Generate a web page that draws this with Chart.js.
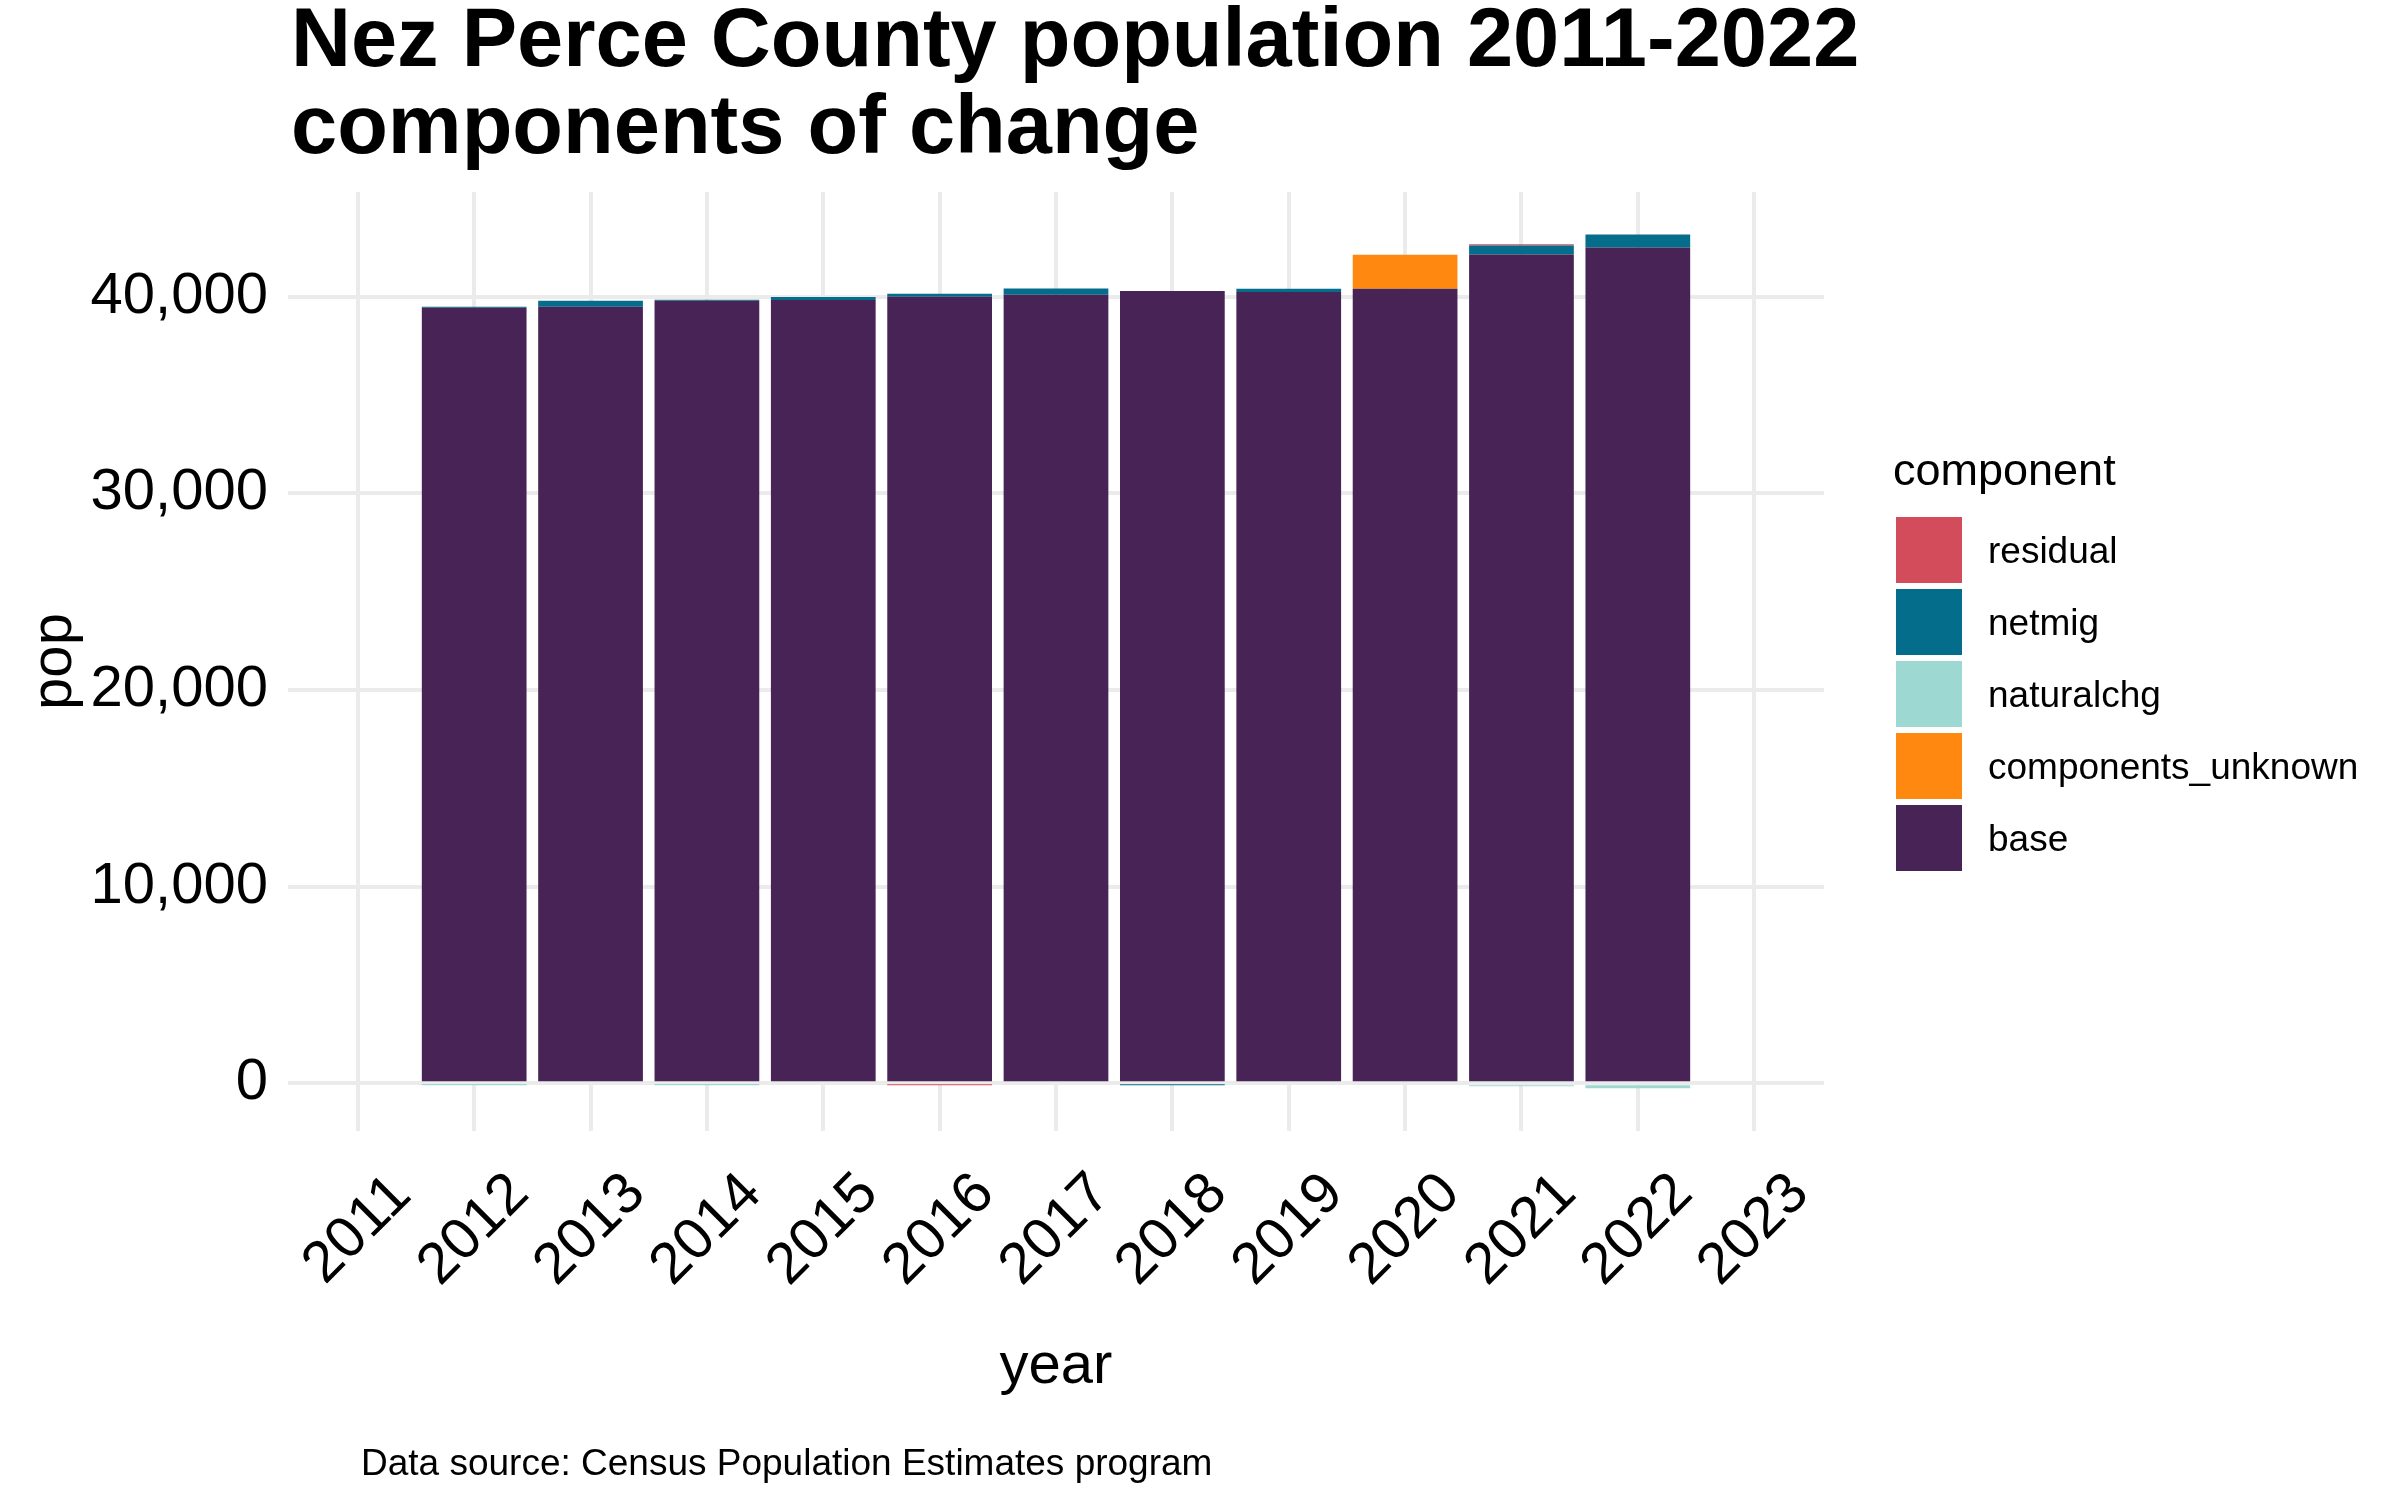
<!DOCTYPE html>
<html lang="en">
<head>
  <meta charset="UTF-8"/>
  <title>Nez Perce County population 2011-2022</title>
  <style>
    html, body { margin: 0; padding: 0; background: #fff; }
    .wrap { width: 2400px; height: 1500px; }
  </style>
  <script src="https://cdn.jsdelivr.net/npm/chart.js"></script>
</head>
<body>
  <div class="wrap"><canvas id="chart" width="2400" height="1500"></canvas></div>

  <script>
    // data
    const years = [2012, 2013, 2014, 2015, 2016, 2017, 2018, 2019, 2020, 2021, 2022];
    const base       = [39440, 39480, 39790, 39830, 40000, 40100, 40280, 40240, 40400, 42140, 42500];
    const unknown    = [0, 0, 0, 0, 0, 0, 0, 0, 1730, 0, 0];
    const naturalchg = [-30, 0, -30, 0, 0, -100, 0, 0, 0, -150, -250];
    const netmig     = [50, 310, 50, 150, 150, 310, -50, 160, 0, 460, 660];
    const residual   = [0, 0, 0, 0, -50, 0, 0, 0, 0, 60, 0];

    const xTicks = [2011, 2012, 2013, 2014, 2015, 2016, 2017, 2018, 2019, 2020, 2021, 2022, 2023];
    const yTicks = [0, 10000, 20000, 30000, 40000];

    const titleLines = ['Nez Perce County population 2011-2022', 'components of change'];
    const caption = 'Data source: Census Population Estimates program';

    // legend order (top to bottom) as in the reference
    const legendNames  = ['residual', 'netmig', 'naturalchg', 'components_unknown', 'base'];
    const legendColors = ['#D34C5C', '#046D8C', '#9ED8D2', '#FF8811', '#472356'];

    const FONT = '"Liberation Sans", Arial, Helvetica, sans-serif';
    const colorOf = name => legendColors[legendNames.indexOf(name)];

    const pts = arr => years.map((yr, i) => ({ x: yr, y: arr[i] }));
    const ds = (label, arr) => ({
      label, data: pts(arr), backgroundColor: colorOf(label),
      borderWidth: 0, barPercentage: 0.9, categoryPercentage: 1
    });

    // text, axis labels and legend drawn on top of the chart
    const decor = {
      id: 'decor',
      afterDraw(chart) {
        const ctx = chart.ctx, xs = chart.scales.x, ys = chart.scales.y, area = chart.chartArea;
        ctx.save();
        ctx.fillStyle = '#000';

        // title
        ctx.font = `bold 83px ${FONT}`;
        ctx.textAlign = 'left';
        ctx.textBaseline = 'alphabetic';
        titleLines.forEach((t, i) => ctx.fillText(t, 291, 66 + i * 87));

        // y tick labels
        ctx.font = `58px ${FONT}`;
        ctx.textAlign = 'right';
        ctx.textBaseline = 'middle';
        yTicks.forEach(v => ctx.fillText(v.toLocaleString('en-US'), area.left - 20, ys.getPixelForValue(v)));

        // x tick labels, 45 degrees, centred on the tick
        ctx.textAlign = 'center';
        xTicks.forEach(v => {
          ctx.save();
          ctx.translate(xs.getPixelForValue(v), area.bottom + 99);
          ctx.rotate(-Math.PI / 4);
          ctx.fillText(String(v), 0, 0);
          ctx.restore();
        });

        // axis titles
        ctx.textBaseline = 'alphabetic';
        ctx.fillText('year', (area.left + area.right) / 2, 1383);
        ctx.save();
        ctx.translate(55, (area.top + area.bottom) / 2);
        ctx.rotate(-Math.PI / 2);
        ctx.textBaseline = 'middle';
        ctx.fillText('pop', 0, 0);
        ctx.restore();

        // caption
        ctx.font = `37px ${FONT}`;
        ctx.textAlign = 'left';
        ctx.fillText(caption, 361, 1475);

        // legend
        ctx.font = `45px ${FONT}`;
        ctx.fillText('component', 1893, 485);
        ctx.font = `37px ${FONT}`;
        legendNames.forEach((name, i) => {
          const top = 517 + i * 72;
          ctx.fillStyle = legendColors[i];
          ctx.fillRect(1896, top, 66, 66);
          ctx.fillStyle = '#000';
          ctx.fillText(name, 1988, top + 33 + 13);
        });
        ctx.restore();
      }
    };

    const grid = { color: '#EBEBEB', lineWidth: 4, drawTicks: false, offset: false };

    new Chart(document.getElementById('chart'), {
      type: 'bar',
      data: {
        datasets: [
          ds('base', base),
          ds('components_unknown', unknown),
          ds('naturalchg', naturalchg),
          ds('netmig', netmig),
          ds('residual', residual)
        ]
      },
      options: {
        responsive: false, animation: false, devicePixelRatio: 1,
        layout: { padding: { left: 288, right: 576, top: 192, bottom: 369 } },
        scales: {
          x: {
            type: 'linear', stacked: true, offset: false,
            min: 2010.4, max: 2023.6,
            afterBuildTicks: s => { s.ticks = xTicks.map(v => ({ value: v })); },
            ticks: { display: false },
            grid, border: { display: false }
          },
          y: {
            stacked: true, min: -2425, max: 45320,
            afterBuildTicks: s => { s.ticks = yTicks.map(v => ({ value: v })); },
            ticks: { display: false },
            grid, border: { display: false }
          }
        },
        plugins: { legend: { display: false }, title: { display: false }, tooltip: { enabled: false } }
      },
      plugins: [decor]
    });
  </script>
</body>
</html>
